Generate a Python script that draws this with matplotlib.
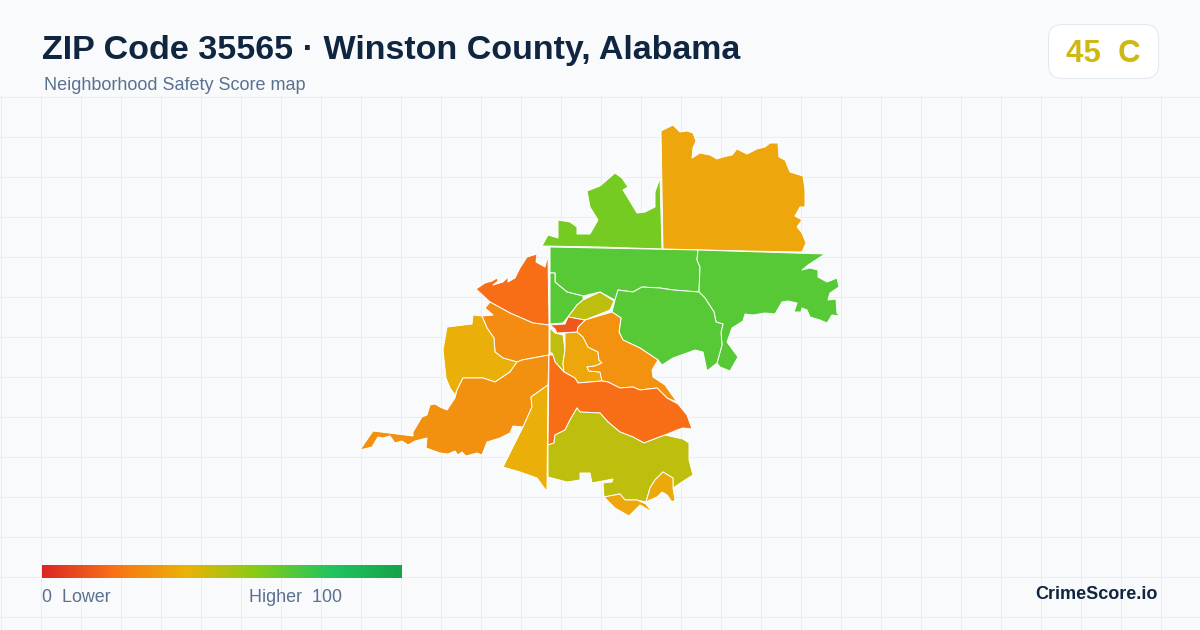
import numpy as np
import matplotlib
matplotlib.use("Agg")
import matplotlib.pyplot as plt
from matplotlib.colors import LinearSegmentedColormap
from matplotlib.patches import FancyBboxPatch

# outlines, in picture pixels
nw_red = [(476,289),(485,283),(492,281),(497,278),(498,281),(493,285),(503,282),(508,277),(508,282),(515,278),(520,268),(527,257),(537,254),(536,262),(545,267),(548,255),(549,325),(533,323),(510,313),(490,302)]
w_orange = [(490,302),(510,313),(533,323),(549,325),(549,355),(522,360),(517,362),(503,358),(495,352),(494,338),(487,328),(482,316),(493,315),(485,308)]
w_yellow = [(473,315),(482,316),(487,328),(494,338),(495,352),(503,358),(517,362),(510,372),(495,382),(483,378),(463,378),(457,390),(455,395),(450,388),(446,378),(443,350),(447,327),(472,324)]
sw_orange = [(549,355),(522,360),(517,362),(510,372),(495,382),(483,378),(463,378),(457,390),(455,398),(447,410),(440,407),(435,404),(430,405),(427,415),(422,417),(413,432),(413,436),(373,431),(360,450),(372,447),(378,437),(383,438),(390,436),(395,443),(402,441),(408,445),(415,441),(427,438),(426,448),(440,453),(448,454),(455,451),(458,455),(462,452),(466,456),(477,453),(482,455),(487,442),(500,438),(510,433),(513,426),(523,427),(532,407),(531,397),(548,385)]
s_yellow = [(548,385),(531,397),(532,407),(523,427),(503,467),(520,472),(537,478),(545,489),(547,490)]
n_lime = [(542,246),(548,235),(558,238),(558,220),(570,222),(577,227),(577,234),(590,234),(598,220),(590,207),(587,191),(600,186),(615,173),(622,178),(628,187),(623,190),(628,198),(637,213),(645,212),(655,207),(655,192),(660,178),(662,249),(600,247)]
ne_orange = [(661,131),(673,125),(680,132),(687,131),(693,133),(696,141),(693,148),(692,158),(700,153),(710,155),(717,159),(723,157),(732,155),(737,149),(747,154),(757,149),(765,147),(770,143),(778,143),(779,157),(785,160),(790,172),(803,176),(805,190),(805,207),(800,207),(795,216),(802,220),(797,227),(802,233),(806,243),(802,252),(747,251),(663,249)]
n_green = [(550,247),(698,250),(697,260),(700,267),(699,292),(673,290),(660,288),(642,287),(633,292),(618,290),(615,300),(600,292),(583,296),(567,292),(555,282),(555,273),(550,273)]
nl_green = [(550,273),(555,273),(555,282),(567,292),(583,296),(583,300),(577,305),(568,317),(563,323),(550,324)]
ne_green = [(698,250),(825,254),(808,265),(802,270),(810,268),(818,270),(818,277),(827,282),(837,278),(839,287),(830,293),(828,300),(836,299),(837,313),(840,316),(832,315),(827,323),(820,320),(810,317),(807,310),(802,308),(801,312),(794,312),(797,303),(788,301),(782,302),(775,314),(765,313),(753,315),(745,314),(743,321),(732,328),(727,342),(738,357),(730,371),(720,367),(717,363),(722,345),(721,332),(723,324),(716,322),(714,312),(705,298),(699,292),(700,267),(697,260)]
e_green = [(699,292),(705,298),(714,312),(716,322),(723,324),(721,332),(722,345),(717,363),(707,371),(703,352),(695,350),(687,353),(673,358),(662,365),(658,360),(640,348),(623,340),(619,332),(621,318),(612,312),(615,300),(618,290),(633,292),(642,287),(660,288),(673,290)]
c_olive = [(568,317),(577,305),(583,300),(600,292),(614,301),(610,310),(585,320)]
c_red = [(550,325),(565,324),(568,317),(585,320),(578,327),(577,332),(557,333),(555,329)]
c_narrow = [(550,328),(555,333),(563,335),(565,350),(563,363),(564,372),(555,362),(552,353),(550,353)]
c_yellow = [(565,333),(577,332),(583,337),(588,347),(598,352),(599,360),(602,363),(595,366),(587,367),(589,371),(600,372),(602,381),(578,383),(575,378),(564,372),(563,363),(565,350)]
ce_orange = [(578,327),(585,320),(612,312),(621,318),(619,332),(623,340),(640,348),(658,360),(652,370),(653,377),(665,385),(677,402),(667,398),(657,388),(640,390),(633,387),(620,388),(608,382),(602,381),(600,372),(589,371),(587,367),(595,366),(602,363),(599,360),(598,352),(588,347),(583,337),(577,332)]
sc_red = [(549,355),(553,355),(555,362),(564,372),(575,378),(578,383),(602,381),(608,382),(620,388),(633,387),(640,390),(657,388),(667,398),(678,404),(687,415),(692,429),(683,428),(677,430),(665,435),(657,438),(644,443),(633,437),(620,432),(608,422),(600,413),(580,412),(577,408),(570,420),(565,430),(555,435),(554,443),(548,445)]
s_olive = [(548,445),(554,443),(555,435),(565,430),(570,420),(577,408),(580,412),(600,413),(608,422),(620,432),(633,437),(644,443),(657,438),(665,435),(683,439),(689,443),(689,460),(693,475),(685,480),(673,488),(673,478),(663,472),(655,480),(650,488),(646,502),(637,500),(625,500),(620,494),(604,497),(603,483),(612,482),(613,479),(592,483),(590,473),(580,473),(580,480),(567,482),(548,477)]
se_yellow = [(646,502),(650,488),(655,480),(663,472),(673,478),(673,488),(675,500),(672,502),(667,495),(662,492),(657,497),(650,500)]
s_tip = [(604,497),(620,494),(625,500),(637,500),(646,504),(652,512),(640,505),(629,516),(615,508)]

regions = [n_lime, ne_orange, n_green, nl_green, ne_green, e_green, nw_red, w_orange, w_yellow, sw_orange, s_yellow,
           c_narrow, c_yellow, ce_orange, sc_red, s_olive, se_yellow, s_tip, c_olive, c_red]
scores = [63, 36, 69, 69, 69, 69, 19, 28, 39, 29, 39,
          48.5, 36, 30, 19, 48.5, 37, 36, 48.5, 13]

stop_pos = [0, 0.2, 0.4, 0.6, 0.8, 1]
stop_colors = ["#dc2626", "#f97316", "#eab308", "#84cc16", "#22c55e", "#16a34a"]

title = "ZIP Code 35565 · Winston County, Alabama"
subtitle = "Neighborhood Safety Score map"
badge = "45  C"
brand = "CrimeScore.io"

plt.rcParams['font.family'] = ['Liberation Sans', 'DejaVu Sans']
cmap = LinearSegmentedColormap.from_list("safety", list(zip(stop_pos, stop_colors)))

fig = plt.figure(figsize=(12, 6.3), dpi=100, facecolor="#f8fafc")
ax = fig.add_axes([0, 0, 1, 1])
ax.set_facecolor("#f8fafc")
ax.axis("off")

# background grid, starts under the header
for x in range(0, 1201, 40):
    ax.plot([x + 0.5, x + 0.5], [96, 630], color="#e7eff3", lw=0.72, zorder=1)
for y in range(96, 630, 40):
    ax.plot([0, 1200], [y + 0.5, y + 0.5], color="#e7eff3", lw=0.72, zorder=1)

for poly, score in zip(regions, scores):
    xs, ys = zip(*poly)
    ax.fill(xs, ys, facecolor=cmap(score / 100), edgecolor="white", lw=0.7, joinstyle="round", zorder=3)

# header
ax.text(42, 59.5, title, fontsize=24.45, fontweight="bold", color="#0f2540", va="baseline", zorder=5)
ax.text(44, 90.5, subtitle, fontsize=12.95, color="#5b7190", va="baseline", zorder=5)

card = FancyBboxPatch((1048.5, 24.5), 110, 54, boxstyle="round,pad=0,rounding_size=14",
                      facecolor="white", edgecolor="#e2e8f0", lw=0.72, zorder=4)
ax.add_patch(card)
ax.text(1103, 62, badge, fontsize=22.5, fontweight="bold", color="#cfb812", ha="center", va="baseline", zorder=5)

# legend bar
ax.imshow(np.linspace(0, 1, 360).reshape(1, -1), cmap=cmap, extent=(42, 402, 578, 565), aspect="auto", zorder=4)
ax.text(42, 602.5, "0  Lower", fontsize=12.9, color="#5b7190", va="baseline", zorder=5)
ax.text(249, 602.5, "Higher  100", fontsize=12.9, color="#5b7190", va="baseline", zorder=5)
ax.text(1158, 599, brand, fontsize=13, fontweight="bold", color="#0f2540", ha="right", va="baseline", zorder=5)

ax.set_xlim(0, 1200)
ax.set_ylim(630, 0)

fig.savefig("out.png", dpi=100, facecolor=fig.get_facecolor())
